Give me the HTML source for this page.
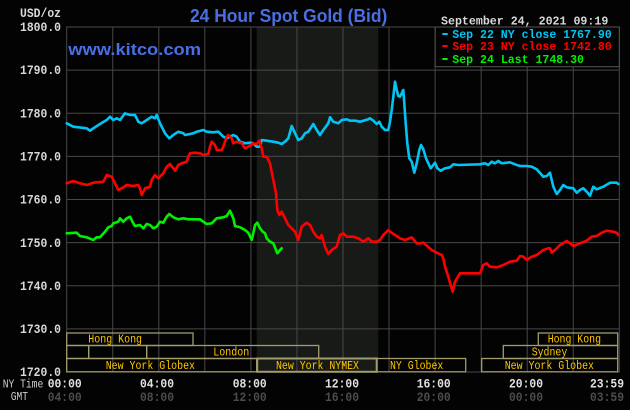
<!DOCTYPE html>
<html><head><meta charset="utf-8"><style>
html,body{margin:0;padding:0;background:#030303;width:630px;height:410px;overflow:hidden}
svg{display:block}
.m{font-family:"Liberation Mono",monospace;font-weight:bold}
.s{font-family:"Liberation Mono",monospace;font-size:12px;fill:#ffc800}
</style></head><body>
<svg width="630" height="410" viewBox="0 0 630 410" xmlns="http://www.w3.org/2000/svg">
<rect x="0" y="0" width="630" height="410" fill="#030303"/>
<rect x="256.7" y="27" width="121.6" height="345" fill="#181a17"/>
<g stroke="#484848" stroke-width="1" fill="none">
<line x1="66.7" y1="70.1" x2="619.3" y2="70.1"/>
<line x1="66.7" y1="113.3" x2="619.3" y2="113.3"/>
<line x1="66.7" y1="156.4" x2="619.3" y2="156.4"/>
<line x1="66.7" y1="199.5" x2="619.3" y2="199.5"/>
<line x1="66.7" y1="242.6" x2="619.3" y2="242.6"/>
<line x1="66.7" y1="285.8" x2="619.3" y2="285.8"/>
<line x1="66.7" y1="328.9" x2="619.3" y2="328.9"/>
<line x1="112.75" y1="27" x2="112.75" y2="372"/>
<line x1="158.8" y1="27" x2="158.8" y2="372"/>
<line x1="204.85" y1="27" x2="204.85" y2="372"/>
<line x1="250.9" y1="27" x2="250.9" y2="372"/>
<line x1="296.95" y1="27" x2="296.95" y2="372"/>
<line x1="343" y1="27" x2="343" y2="372"/>
<line x1="389.05" y1="27" x2="389.05" y2="372"/>
<line x1="435.1" y1="27" x2="435.1" y2="372"/>
<line x1="481.15" y1="27" x2="481.15" y2="372"/>
<line x1="527.2" y1="27" x2="527.2" y2="372"/>
<line x1="573.25" y1="27" x2="573.25" y2="372"/>
<rect x="66.7" y="27" width="552.6" height="345"/>
</g>
<g stroke="#a09c6c" stroke-width="1.3" fill="none">
<rect x="66.7" y="333" width="126.3" height="12.5"/>
<rect x="66.7" y="345.5" width="22" height="13"/>
<rect x="88.7" y="345.5" width="58" height="13"/>
<rect x="146.7" y="345.5" width="172" height="13"/>
<rect x="66.7" y="358.5" width="190" height="13.3"/>
<rect x="257.2" y="358.5" width="119.5" height="13.3" stroke-width="2"/>
<rect x="376.7" y="358.5" width="89" height="13.3"/>
<rect x="481.7" y="358.5" width="136" height="13.3"/>
<rect x="503.3" y="345.5" width="114.4" height="13"/>
<rect x="538.3" y="333" width="79.4" height="12.5"/>
</g>
<g class="s">
<text x="88.3" y="342.5" textLength="53.7" lengthAdjust="spacingAndGlyphs">Hong Kong</text>
<text x="213.3" y="355.5" textLength="36" lengthAdjust="spacingAndGlyphs">London</text>
<text x="105.7" y="369" textLength="89.3" lengthAdjust="spacingAndGlyphs">New York Globex</text>
<text x="276" y="369" textLength="83" lengthAdjust="spacingAndGlyphs">New York NYMEX</text>
<text x="390" y="369" textLength="53.3" lengthAdjust="spacingAndGlyphs">NY Globex</text>
<text x="504.7" y="369" textLength="89.3" lengthAdjust="spacingAndGlyphs">New York Globex</text>
<text x="531.7" y="355.5" textLength="35.6" lengthAdjust="spacingAndGlyphs">Sydney</text>
<text x="547.7" y="342.5" textLength="53.3" lengthAdjust="spacingAndGlyphs">Hong Kong</text>
</g>
<g fill="none" stroke-width="2.6" stroke-linejoin="round" stroke-linecap="round">
<polyline stroke="#00c4f4" points="66.7,123.3 73.3,126.7 86.7,128.3 90,130.7 93.3,128.3 100,124 106.7,120 110,116.7 113.3,120 116.7,118.3 120,120 125,113.3 130,115 135,115 138.3,121.7 141.7,123.3 146.7,120 151.7,116.7 155,118.3 156.7,115 160,123.3 165,133.3 169.3,138.3 173.3,135 178.3,131.7 183.3,133.3 185,135 193.3,133.3 196.7,131.7 203.3,130 206.7,131.7 213.3,132.3 218.3,131.7 223.3,136.7 226.7,138.3 230,136.7 233.3,135 236.7,136.7 240,141.7 245,143.3 250,142.7 253.3,143.3 256.7,146.7 260,146.7 261.7,140 266.7,140.7 273.3,141.7 278.3,142.7 281.7,144 285,141.7 288.3,138.3 291.7,126 295,133.3 298.3,140 301.7,138.3 305,133.3 308.3,131.7 313.3,124 316.7,130 320,135 323.3,130 328.3,123.3 330,117.3 333.3,121.7 338.3,123.3 341.7,120 346.7,119.3 350,120.7 355,120.7 360,121.7 363.3,120.7 368.3,119.3 370,118.3 373.3,120.7 376.7,124 379.3,121.7 381.7,126.7 385,130 388.3,130 390,121.7 391.7,110 393.3,96.7 395,81.7 396.7,90 398.3,96 400,96.7 401.7,93.3 403.3,90 404.3,103.3 405.7,123.3 407.3,143.3 409.3,158.3 411.7,161.7 413.3,168.3 414.3,172.7 416.7,163.3 419.3,150 421,145 423.3,149.3 426,158.3 428.3,163.3 430.7,168.3 433.3,165 435,162.7 437.3,168.3 440.7,170.7 445,168.3 450,167.3 453.3,164.3 458.3,165 480,164.3 485,163.3 488.3,165 491.7,161.7 495,163.3 498.3,161 501.7,163.3 510,162.3 515,164.3 520,166 526.7,166 531.7,166.7 536.7,169.3 543.3,176.7 546.7,176 550,172.7 551.7,180 553.3,186.7 556.7,194 560,190 563.3,185 566.7,187.3 573.3,188.3 576.7,192.7 580,190 583.3,188.3 586.7,191.7 590,195.7 593.3,186.7 596.7,189.3 603.3,186.7 610,182.7 616.7,182.7 618.3,184"/>
<polyline stroke="#ff0000" points="66.7,183.3 73.3,181 80,183.3 86.7,185 93.3,182.7 103.3,181.7 106.7,175 111.7,176.7 115,183.3 118.3,190 123.3,187.3 126.7,185 133.3,186 138.3,185 140,188.3 141.7,195 145,188.3 150,186.7 151.7,180 155,175 158.3,178.3 163.3,173.3 166.7,166.7 170,164 173.3,168.3 175,170.7 178.3,165 181.7,163.3 186.7,161.7 188.3,156.7 190,153.3 195,152.7 200,153.3 203.3,155 208.3,154 210,146.7 211.7,141.7 215,145 216.7,150 221.7,150 223.3,146.7 226.7,136.7 228.3,135 231.7,138.3 233.3,143.3 236.7,141.7 241.7,143.3 245,148.3 248.3,146.7 253.3,143.3 256.7,144 259.3,140.7 261.7,148.3 263.3,156.7 266.7,156.7 270,163.3 273.3,180 276,193.3 277.3,210 279.3,215 281.7,211.7 285,218.3 288.3,225 291.7,228.3 295,231.7 298.3,240 301.7,226.7 306.7,222.7 310,225 313.3,231.7 316.7,236.7 320,238.3 321.7,235 325,246.7 328.3,254 331.7,250 336.7,246.7 340,235 343.3,233.3 346.7,236.7 353.3,236.7 358.3,238.3 363.3,241.7 368.3,238.3 371.7,241.7 376.7,241.7 380,240 383.3,235 388.3,230 390,231.7 395,235 400,238.3 405,240 411.7,237.3 416.7,243.3 420,243.3 423.3,242.7 426.7,245.7 431.7,250 436.7,252.7 441.7,255 443.3,258.3 445,266.7 448.3,276.7 450.7,285 452.7,291.7 455,281.7 460,273.3 480,273.3 483.3,265 486.7,263.3 490,266.7 496.7,267.3 503.3,265 510,261.7 516.7,260.7 520,256 523.3,256.7 526.7,260 531.7,256.7 536.7,255 543.3,250 548.3,248.3 550,248.3 551.7,252.7 555,250 560,245 566.7,241 570,243.3 573.3,246 580,243.3 586.7,240.7 591.7,236.7 596.7,236 601.7,232.7 606.7,230.7 613.3,231.7 616.7,232.7 618.3,235"/>
<polyline stroke="#00f000" points="66.7,233.3 76.7,232.7 80,236 86.7,237.3 93.3,240 96.7,237.3 100,237.3 105,231.7 108.3,227.3 111.7,226 113.3,223.3 118.3,221.7 120,218.3 123.3,221.7 126.7,218.3 130,216.7 133.3,223.3 135,226 140,225 143.3,228.3 146.7,224 150,225 153.3,228.3 156.7,226.7 160,221.7 163.3,222.7 166.7,216.7 169.3,214 173.3,217.3 178.3,219.3 183.3,218.3 188.3,219.3 200,219.3 203.3,221.7 206.7,224 211.7,223.3 216.7,218.3 223.3,217.3 226.7,216 230,210.7 233.3,218.3 235,226 240,227.3 245,230 248.3,232.7 251.7,240 253.3,233.3 255,225 257.3,222.7 260,228.3 262.7,231.7 265,233.3 266.7,238.3 270,241.7 273.3,243.3 276,250 277.3,253.3 280,250 281.7,248.3"/>
</g>
<rect x="435.2" y="27" width="184.1" height="39.7" fill="#030303" stroke="#555" stroke-width="1"/>
<rect x="442.3" y="33" width="5.4" height="2" fill="#00c4f4"/>
<rect x="442.3" y="45" width="5.4" height="2" fill="#ff0000"/>
<rect x="442.3" y="58" width="5.4" height="2" fill="#00f000"/>
<g class="m" font-size="12">
<text x="452.3" y="38" fill="#00c4f4" textLength="159.4" lengthAdjust="spacingAndGlyphs">Sep 22 NY close 1767.90</text>
<text x="452.3" y="50" fill="#ff0000" textLength="159.4" lengthAdjust="spacingAndGlyphs">Sep 23 NY close 1742.80</text>
<text x="452.3" y="63" fill="#00f000" textLength="131.7" lengthAdjust="spacingAndGlyphs">Sep 24 Last 1748.30</text>
<text x="441" y="24.5" fill="#d8d8d8" textLength="167.3" lengthAdjust="spacingAndGlyphs">September 24, 2021 09:19</text>
</g>
<text x="190" y="22" font-family="Liberation Sans, sans-serif" font-weight="bold" font-size="18" fill="#4a6fe3" textLength="197.3" lengthAdjust="spacingAndGlyphs">24 Hour Spot Gold (Bid)</text>
<text x="68.3" y="55" font-family="Liberation Sans, sans-serif" font-weight="bold" font-size="16.5" fill="#4a6fe3" textLength="132.7" lengthAdjust="spacingAndGlyphs">www.kitco.com</text>
<g class="m" font-size="12.5" fill="#d8d8d8">
<text x="20" y="17" textLength="41" lengthAdjust="spacingAndGlyphs">USD/oz</text>
<text x="20" y="31.1" textLength="41" lengthAdjust="spacingAndGlyphs">1800.0</text>
<text x="20" y="74.2" textLength="41" lengthAdjust="spacingAndGlyphs">1790.0</text>
<text x="20" y="117.4" textLength="41" lengthAdjust="spacingAndGlyphs">1780.0</text>
<text x="20" y="160.5" textLength="41" lengthAdjust="spacingAndGlyphs">1770.0</text>
<text x="20" y="203.6" textLength="41" lengthAdjust="spacingAndGlyphs">1760.0</text>
<text x="20" y="246.8" textLength="41" lengthAdjust="spacingAndGlyphs">1750.0</text>
<text x="20" y="289.9" textLength="41" lengthAdjust="spacingAndGlyphs">1740.0</text>
<text x="20" y="333" textLength="41" lengthAdjust="spacingAndGlyphs">1730.0</text>
<text x="20" y="376.1" textLength="41" lengthAdjust="spacingAndGlyphs">1720.0</text>
</g>
<g font-family="Liberation Mono, monospace" font-size="12" fill="#d0d0d0">
<text x="2.7" y="387.3" textLength="40.6" lengthAdjust="spacingAndGlyphs">NY Time</text>
<text x="10.7" y="400" textLength="17.3" lengthAdjust="spacingAndGlyphs">GMT</text>
</g>
<g class="m" font-size="12.5" fill="#e0e0e0">
<text x="47.7" y="387.3" textLength="34" lengthAdjust="spacingAndGlyphs">00:00</text>
<text x="140" y="387.3" textLength="34" lengthAdjust="spacingAndGlyphs">04:00</text>
<text x="232.7" y="387.3" textLength="34" lengthAdjust="spacingAndGlyphs">08:00</text>
<text x="325" y="387.3" textLength="34" lengthAdjust="spacingAndGlyphs">12:00</text>
<text x="416.7" y="387.3" textLength="34" lengthAdjust="spacingAndGlyphs">16:00</text>
<text x="509" y="387.3" textLength="34" lengthAdjust="spacingAndGlyphs">20:00</text>
<text x="590" y="387.3" textLength="34" lengthAdjust="spacingAndGlyphs">23:59</text>
</g>
<g class="m" font-size="12.5" fill="#4c4c4c">
<text x="47.7" y="401" textLength="34" lengthAdjust="spacingAndGlyphs">04:00</text>
<text x="140" y="401" textLength="34" lengthAdjust="spacingAndGlyphs">08:00</text>
<text x="232.7" y="401" textLength="34" lengthAdjust="spacingAndGlyphs">12:00</text>
<text x="325" y="401" textLength="34" lengthAdjust="spacingAndGlyphs">16:00</text>
<text x="416.7" y="401" textLength="34" lengthAdjust="spacingAndGlyphs">20:00</text>
<text x="509" y="401" textLength="34" lengthAdjust="spacingAndGlyphs">00:00</text>
<text x="590" y="401" textLength="34" lengthAdjust="spacingAndGlyphs">03:59</text>
</g>
</svg>
</body></html>
